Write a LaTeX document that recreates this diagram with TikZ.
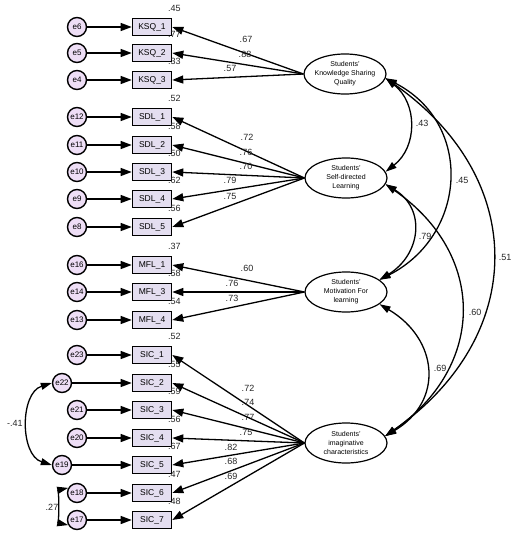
\documentclass[tikz,border=0pt]{standalone}
\usepackage{fontspec}
\setmainfont{Liberation Sans}
\usetikzlibrary{shapes.geometric,arrows.meta}
\definecolor{boxfill}{RGB}{228,222,240}
\definecolor{errfill}{RGB}{238,222,246}
\tikzset{
	obs/.style={draw, line width=1.6pt, fill=boxfill, minimum width=39pt, minimum height=17pt, inner sep=0pt, font=\fontsize{8.5}{10}\selectfont},
	err/.style={circle, draw, line width=1.4pt, fill=errfill, minimum size=19pt, inner sep=0pt, font=\fontsize{8}{9}\selectfont},
	lat/.style={ellipse, draw, line width=1.2pt, minimum width=82pt, minimum height=40pt, inner xsep=-2pt, inner ysep=0pt, align=center, font=\fontsize{7}{9}\selectfont},
	reg/.style={line width=1.3pt, -{Triangle[length=11pt,width=8pt]}},
	cov/.style={line width=1.3pt, {Triangle[length=11pt,width=7pt]}-{Triangle[length=11pt,width=7pt]}},
	val/.style={font=\fontsize{9}{10}\selectfont, inner sep=0pt, text=black!85}
}
\begin{document}
\begin{tikzpicture}[x=1pt,y=-1pt]
			\useasboundingbox (0,0) rectangle (524,540);
			% Các biến tiềm ẩn
			\node[lat] (ksq) at (345,74) {Students'\\Knowledge Sharing\\Quality};
			\node[lat] (sdl) at (346,178) {Students'\\Self-directed\\Learning};
			\node[lat] (mfl) at (346,292) {Students'\\Motivation For\\learning};
			\node[lat] (sic) at (346,443) {Students'\\imaginative\\characteristics};
			% Biến quan sát, sai số, hệ số tải và R^2
			\foreach \bx/\txt/\err/\ex/\y/\rsq/\lat/\ld/\vx/\vy in {
				ksq1/KSQ\_1/e6/77/27/.45/ksq/.67/246/39,
				ksq2/KSQ\_2/e5/77/53/.77/ksq/.88/245/54,
				ksq3/KSQ\_3/e4/77/80/.33/ksq/.57/230/68,
				sdl1/SDL\_1/e12/77/117/.52/sdl/.72/247/137,
				sdl2/SDL\_2/e11/77/145/.58/sdl/.76/246/152,
				sdl3/SDL\_3/e10/77/172/.50/sdl/.70/246/166,
				sdl4/SDL\_4/e9/77/199/.62/sdl/.79/230/180,
				sdl5/SDL\_5/e8/77/227/.56/sdl/.75/230/196,
				mfl1/MFL\_1/e16/77/265/.37/mfl/.60/247/268,
				mfl3/MFL\_3/e14/77/292/.58/mfl/.76/232/283,
				mfl4/MFL\_4/e13/77/320/.54/mfl/.73/232/298,
				sic1/SIC\_1/e23/77/355/.52/sic/.72/248/388,
				sic2/SIC\_2/e22/62/383/.55/sic/.74/248/402,
				sic3/SIC\_3/e21/77/410/.59/sic/.77/248/417,
				sic4/SIC\_4/e20/77/438/.56/sic/.75/246/432,
				sic5/SIC\_5/e19/62/465/.67/sic/.82/231/447,
				sic6/SIC\_6/e18/77/493/.47/sic/.68/231/461,
				sic7/SIC\_7/e17/77/520/.48/sic/.69/231/476}
			{
				\node[obs] (\bx) at (152,\y) {\txt};
				\node[err] (\err) at (\ex,\y) {\err};
				\draw[reg] (\err) -- (\bx);
				\draw[reg] (\lat.west) -- (\bx.east);
				\node[val] at ([shift={(2,-9.5)}]\bx.north east) {\rsq};
				\node[val] at (\vx,\vy) {\ld};
			}
			% Hiệp phương sai giữa các biến tiềm ẩn
			\draw[cov] (ksq.-6) .. controls +(32,25) and +(32,-25) .. (sdl.9);
			\draw[cov] (ksq.-6) .. controls +(88,45) and +(88,-45) .. (mfl.20);
			\draw[cov] (ksq.-6) .. controls +(143,100) and +(143,-100) .. (sic.10);
			\draw[cov] (sdl.-9) .. controls +(41,25) and +(41,-25) .. (mfl.20);
			\draw[cov] (sdl.-9) .. controls +(101,70) and +(101,-70) .. (sic.10);
			\draw[cov] (mfl.-20) .. controls +(59,35) and +(59,-35) .. (sic.10);
			\node[val] at (422,123) {.43};
			\node[val] at (462,180) {.45};
			\node[val] at (505,257) {.51};
			\node[val] at (425,236) {.79};
			\node[val] at (475,312) {.60};
			\node[val] at (440,368) {.69};
			% Hiệp phương sai giữa các sai số
			\draw[cov] (e22.west) .. controls +(-32,10) and +(-32,-10) .. (e19.west);
			\node[val] at (15,423) {-.41};
			\draw[cov] (e18.150) .. controls +(-9,2) and +(-9,-2) .. (e17.-150);
			\node[val] at (52,507) {.27};
\end{tikzpicture}
\end{document}
